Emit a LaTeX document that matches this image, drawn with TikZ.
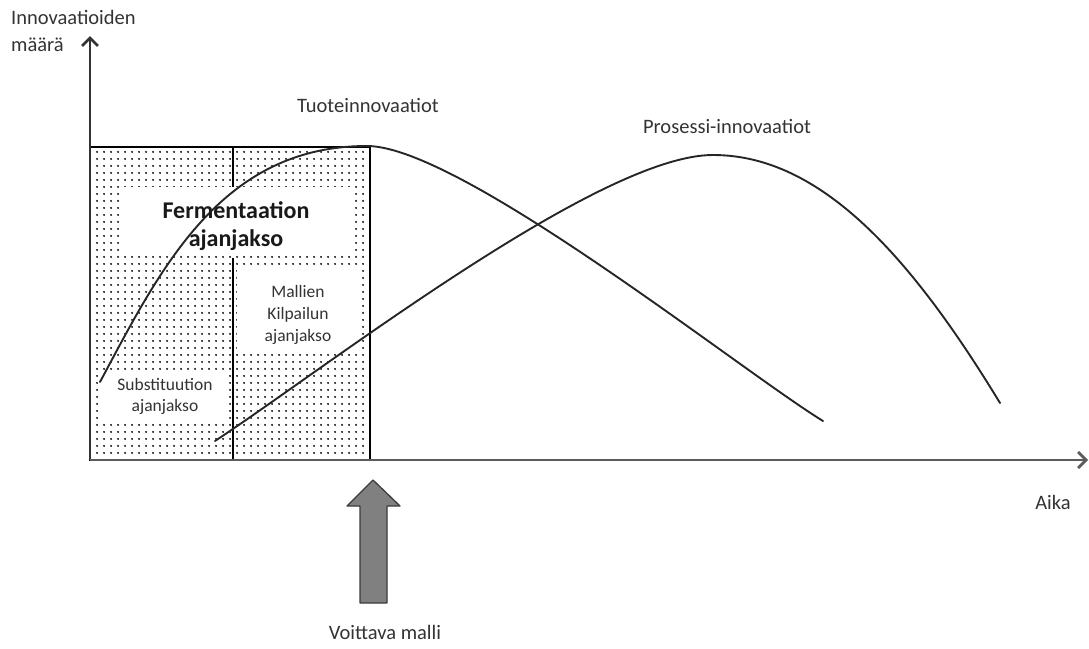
\documentclass[tikz,border=0pt]{standalone}
\usepackage{fontspec}
\setmainfont{Carlito}
\usetikzlibrary{arrows.meta,patterns.meta}
\definecolor{axisgray}{HTML}{333333}
\definecolor{textgray}{HTML}{333333}
\definecolor{arrowfill}{HTML}{808080}
\definecolor{arrowline}{HTML}{3C3C3C}
\tikzset{
  lbl/.style={text=textgray, font=\fontsize{20.5}{27}\selectfont, inner sep=0pt, align=center},
  axisline/.style={draw=axisgray, line width=2.4pt, -{Straight Barb[length=8pt,width=16pt,line width=2.8pt]}},
  curveline/.style={draw=black!85, line width=1.9pt, line cap=round},
  whitebox/.style={fill=white, draw=none},
}
\begin{document}
\begin{tikzpicture}[x=1pt,y=-1pt]
\useasboundingbox (0,0) rectangle (1089,648);
% shaded box
\fill[pattern={Dots[distance=6.5pt,radius=1.1pt]}, pattern color=black] (90,147) rectangle (370,460);
% white label areas
\fill[whitebox] (120,187) rectangle (353,255);
\fill[whitebox] (237,270) rectangle (360,353);
\fill[whitebox] (99,370) rectangle (228,421);
% divider
\draw[black, line width=1.4pt] (233,147) -- (233,187);
\draw[black, line width=1.4pt] (233,258) -- (233,460);
% box border
\draw[black, line width=2.6pt] (90,147) rectangle (370,460);
% curves
\draw[curveline] (100,382) .. controls (160,270) and (220,146) .. (367,146)
                 .. controls (460,146) and (740,370) .. (823,421);
\draw[curveline] (215,441) .. controls (330,365) and (600,155) .. (713,155)
                 .. controls (820,155) and (910,255) .. (1000,403);
% axes
\coordinate (O) at (90,460);
\coordinate (ytip) at (90,36);
\coordinate (xtip) at (1088,460);
\draw[axisline] (O) -- (ytip);
\draw[axisline, draw=axisgray!80] (O) -- (xtip);
% labels
\node[lbl, anchor=north west, align=left] (ylab) at (11,10) {Innovaatioiden\\määrä};
\node[lbl] (tuote) at (368,105) {Tuoteinnovaatiot};
\node[lbl] (prosessi) at (727,126) {Prosessi-innovaatiot};
\node[lbl] (aika) at (1053,502) {Aika};
\node[lbl] (voittava) at (385,632) {Voittava malli};
\node[lbl, font=\fontsize{24}{28}\selectfont\bfseries, text=black!90] (ferm) at (236,226) {Fermentaation\\ajanjakso};
\node[lbl, font=\fontsize{17.5}{22}\selectfont] (mallien) at (298,315) {Mallien\\Kilpailun\\ajanjakso};
\node[lbl, font=\fontsize{17.5}{21}\selectfont] (subst) at (165,396) {Substituution\\ajanjakso};
% big arrow
\draw[fill=arrowfill, draw=arrowline, line width=1.3pt, line join=round] (373,480) -- (400,506) -- (387,506) -- (387,603) -- (360,603) -- (360,506) -- (347,506) -- cycle;
\end{tikzpicture}
\end{document}
